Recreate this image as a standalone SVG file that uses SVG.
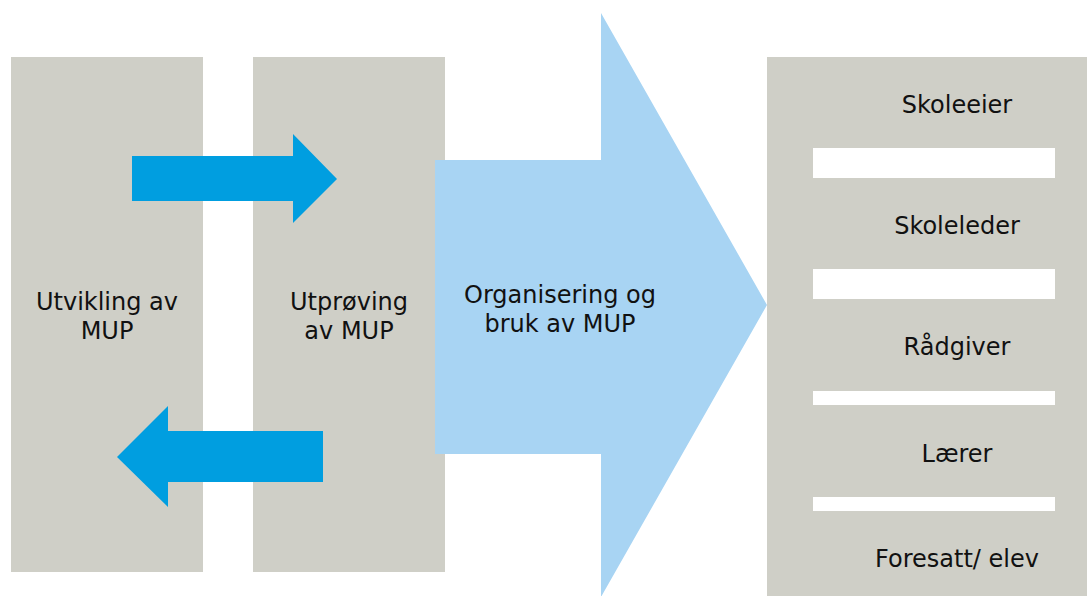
<svg xmlns="http://www.w3.org/2000/svg" width="1087" height="596" viewBox="0 0 1087 596">
<style>
.box{fill:#cfcfc7}
.bar{fill:#ffffff}
.arr{fill:#009ee0}
.big{fill:#a8d4f3}
text{font-family:"DejaVu Sans","Liberation Sans",sans-serif;font-size:24px;fill:#111111;text-anchor:middle}
</style>
<rect width="1087" height="596" fill="#ffffff"/>
<g id="node-utvikling">
<rect class="box" x="11" y="57" width="192" height="515"/>
<text x="107" y="310">Utvikling av</text>
<text x="107" y="339">MUP</text>
</g>
<g id="node-utproving">
<rect class="box" x="253" y="57" width="192" height="515"/>
<text x="349" y="310">Utprøving</text>
<text x="349" y="339">av MUP</text>
</g>
<g id="node-organisering">
<polygon class="big" points="435,160 601,160 601,13 767,305 601,597 601,454 435,454"/>
<text x="560" y="303">Organisering og</text>
<text x="560" y="332">bruk av MUP</text>
</g>
<g id="node-roller">
<rect class="box" x="767" y="57" width="330" height="545"/>
<rect class="bar" x="813" y="148" width="242" height="30"/>
<rect class="bar" x="813" y="269" width="242" height="30"/>
<rect class="bar" x="813" y="391" width="242" height="14"/>
<rect class="bar" x="813" y="497" width="242" height="14"/>
<text x="957" y="113">Skoleeier</text>
<text x="957" y="234">Skoleleder</text>
<text x="957" y="355">Rådgiver</text>
<text x="957" y="462">Lærer</text>
<text x="957" y="567">Foresatt/ elev</text>
</g>
<g id="connectors">
<polygon class="arr" points="132,156 293,156 293,134 337,179 293,223 293,201 132,201"/>
<polygon class="arr" points="323,431 168,431 168,406 117,457 168,507 168,482 323,482"/>
</g>
</svg>
